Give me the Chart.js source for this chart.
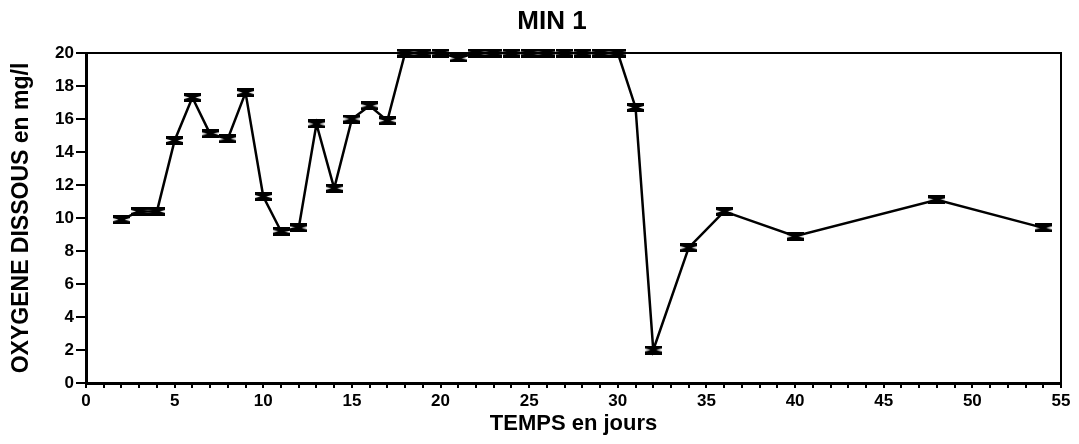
<!DOCTYPE html>
<html>
<head>
<meta charset="utf-8">
<script src="https://cdn.jsdelivr.net/npm/chart.js@4/dist/chart.umd.min.js"></script>
<style>
  html, body { margin: 0; padding: 0; background: #fff; }
  #wrap { width: 1079px; height: 444px; }
</style>
</head>
<body>
<div id="wrap"><canvas id="chart"></canvas></div>
<script>
/* ─── MIN 1 : oxygène dissous ─────────────────────────────── */
const days   = [2, 3, 4, 5, 6, 7, 8, 9, 10, 11, 12, 13, 14, 15, 16, 17, 18, 19, 20, 21,
                22, 23, 24, 25, 26, 27, 28, 29, 30, 31, 32, 34, 36, 40, 48, 54];
const oxygen = [9.9, 10.4, 10.4, 14.7, 17.3, 15.1, 14.8, 17.6, 11.3, 9.2, 9.4, 15.7, 11.8, 16.0, 16.8, 15.9, 20, 20, 20, 19.7,
                20, 20, 20, 20, 20, 20, 20, 20, 20, 16.7, 2.0, 8.2, 10.4, 8.9, 11.1, 9.4];
const xTickLabels = ['0', '5', '10', '15', '20', '25', '30', '35', '40', '45', '50', '55'];
const yTickLabels = ['0', '2', '4', '6', '8', '10', '12', '14', '16', '18', '20'];

const FONT = '"Liberation Sans", Arial, Helvetica, sans-serif';

// small error-bar like marker (hourglass)
function makeMarker() {
  const c = document.createElement('canvas');
  c.width = 17; c.height = 9;
  const g = c.getContext('2d');
  g.fillStyle = '#000';
  g.beginPath();
  g.moveTo(0, 0); g.lineTo(17, 0); g.lineTo(17, 3); g.lineTo(11.5, 4.5); g.lineTo(17, 6);
  g.lineTo(17, 9); g.lineTo(0, 9); g.lineTo(0, 6); g.lineTo(5.5, 4.5); g.lineTo(0, 3);
  g.closePath();
  g.fill();
  return c;
}

const framePlugin = {
  id: 'frame',
  beforeDatasetsDraw(chart) {
    const { ctx, chartArea: a } = chart;
    ctx.save();
    ctx.strokeStyle = '#000';
    ctx.lineWidth = 2;
    ctx.beginPath();
    ctx.moveTo(a.left, a.top);
    ctx.lineTo(a.right, a.top);
    ctx.lineTo(a.right, a.bottom);
    ctx.stroke();
    ctx.restore();
  },
  afterDraw(chart) {
    const { ctx } = chart;
    ctx.save();
    ctx.fillStyle = '#000';
    ctx.font = `bold 26px ${FONT}`;
    ctx.textAlign = 'center';
    ctx.textBaseline = 'middle';
    ctx.fillText('MIN 1', 552, 22);
    ctx.restore();
  },
};

const marker = makeMarker();

new Chart(document.getElementById('chart').getContext('2d'), {
  type: 'line',
  data: {
    datasets: [{
      label: 'Oxygène dissous (mg/l)',
      data: days.map((d, i) => ({ x: d, y: oxygen[i] })),
      borderColor: '#000',
      borderWidth: 2.5,
      pointStyle: marker,
      pointRadius: 8,
      tension: 0,
      clip: false,
    }],
  },
  options: {
    responsive: true,
    maintainAspectRatio: false,
    animation: false,
    events: [],
    layout: { padding: { top: 53, right: 18, left: 0, bottom: 0 } },
    plugins: {
      legend: { display: false },
      tooltip: { enabled: false },
    },
    scales: {
      x: {
        type: 'linear',
        min: 0,
        max: 55,
        afterFit: s => { s.height = 61; },
        border: { color: '#000', width: 3 },
        grid: { drawOnChartArea: false, color: '#000', lineWidth: 2, tickLength: 5 },
        ticks: {
          stepSize: 1,
          autoSkip: false,
          maxRotation: 0,
          padding: 3,
          color: '#000',
          font: { family: FONT, size: 17, weight: 'bold' },
          callback: v => (v % 5 === 0 ? xTickLabels[v / 5] : ''),
        },
        title: {
          display: true,
          text: 'TEMPS en jours',
          color: '#000',
          font: { family: FONT, size: 22, weight: 'bold' },
          padding: { top: 0, bottom: 7 },
        },
      },
      y: {
        min: 0,
        max: 20,
        afterFit: s => { s.width = 86; },
        border: { color: '#000', width: 3 },
        grid: { drawOnChartArea: false, color: '#000', lineWidth: 2, tickLength: 10 },
        ticks: {
          stepSize: 2,
          padding: 2,
          color: '#000',
          font: { family: FONT, size: 17, weight: 'bold' },
          callback: v => yTickLabels[v / 2],
        },
        title: {
          display: true,
          text: 'OXYGENE DISSOUS en mg/l',
          color: '#000',
          font: { family: FONT, size: 23, weight: 'bold' },
          padding: { top: 8, bottom: 0 },
        },
      },
    },
  },
  plugins: [framePlugin],
});
</script>
</body>
</html>
